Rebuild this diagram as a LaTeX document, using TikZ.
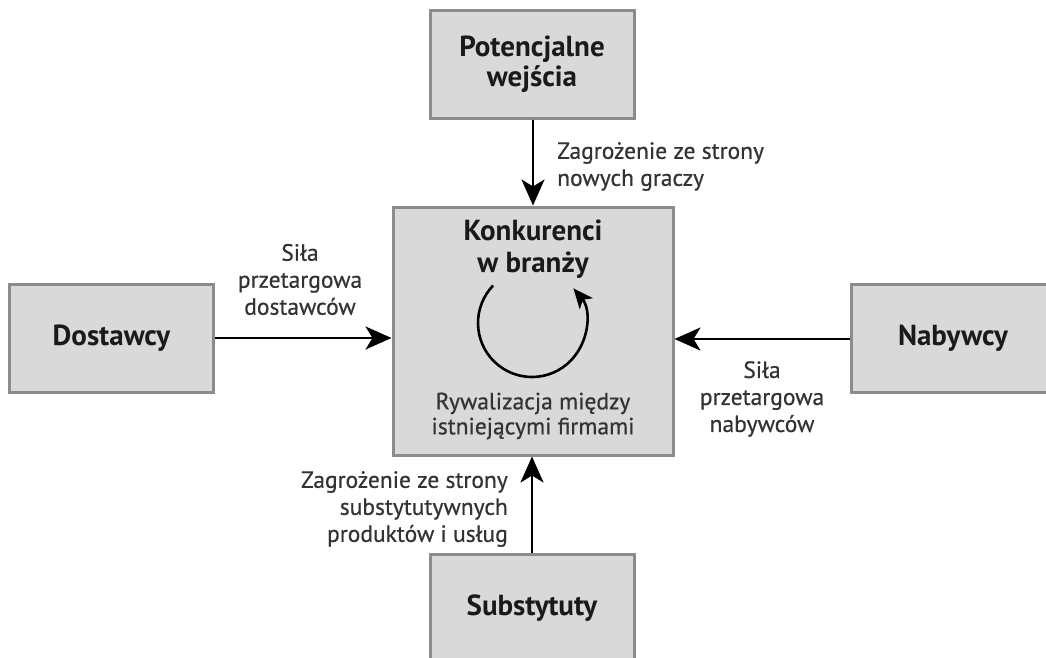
\documentclass[tikz,border=0pt]{standalone}
\usepackage{fontspec}
\setmainfont{PT Sans}
\newfontfamily\labelfont[FakeBold=0.6]{PT Sans}
\usetikzlibrary{arrows.meta}
\definecolor{boxfill}{HTML}{D9D9D9}
\definecolor{boxline}{HTML}{8C8C8C}
\definecolor{titletext}{HTML}{1A1A1A}
\definecolor{labeltext}{HTML}{333333}
\tikzset{
  forcebox/.style={draw=boxline, fill=boxfill, line width=3pt,
    minimum width=204pt, minimum height=108pt, inner sep=0pt,
    align=center, text=titletext, font=\bfseries\fontsize{29}{30}\selectfont},
  corebox/.style={forcebox, minimum width=280pt, minimum height=248pt},
  forcearrow/.style={draw=black, line width=2.6pt,
    -{Stealth[length=26pt,width=23pt,inset=7pt]}},
  cyclearrow/.style={draw=black, line width=2.6pt,
    -{Stealth[length=20pt,width=17pt,inset=5pt]}},
  forcelabel/.style={inner sep=0pt, text=labeltext,
    font=\labelfont\fontsize{23.5}{27}\selectfont},
}
\begin{document}
\begin{tikzpicture}[x=1pt,y=-1pt]
  \useasboundingbox (0,0) rectangle (1046,658);

  % the five forces
  \node[forcebox] (entrants)   at (532,64.5) {Potencjalne\\wejścia};
  \node[corebox]  (industry)   at (533,331)  {};
  \node[forcebox] (suppliers)  at (111.5,338) {Dostawcy};
  \node[forcebox] (buyers)     at (953,338)  {Nabywcy};
  \node[forcebox] (substitutes) at (532,608) {Substytuty};

  % contents of the central box
  \node[inner sep=0pt, align=center, text=titletext,
        font=\bfseries\fontsize{29}{32}\selectfont] (coretitle) at (533,249)
        {Konkurenci\\w branży};
  \node[forcelabel, align=center, font=\labelfont\fontsize{23.5}{25}\selectfont]
        (rivalry) at (533,416) {Rywalizacja między\\istniejącymi firmami};
  \coordinate (cyclecentre) at (532,323);
  \draw[cyclearrow] (cyclecentre) ++(136:54pt)
        arc[start angle=136, end angle=400, radius=54pt];

  % pressures on the industry
  \draw[forcearrow] (entrants.south -| 533,0) -- (industry.north -| 533,0);
  \draw[forcearrow] (substitutes.north -| 532,0) -- (industry.south -| 532,0);
  \draw[forcearrow] (suppliers.east |- 0,338) -- (industry.west |- 0,338);
  \draw[forcearrow] (buyers.west |- 0,339) -- (industry.east |- 0,339);

  % arrow labels
  \node[forcelabel, align=left, anchor=west] (newlabel) at (557,166.5)
        {Zagrożenie ze strony\\nowych graczy};
  \node[forcelabel, align=center] (supplabel) at (300,279.5)
        {Siła\\przetargowa\\dostawców};
  \node[forcelabel, align=center] (buylabel) at (762,399)
        {Siła\\przetargowa\\nabywców};
  \node[forcelabel, align=right, anchor=east] (sublabel) at (508,509)
        {Zagrożenie ze strony\\substytutywnych\\produktów i usług};
\end{tikzpicture}
\end{document}
